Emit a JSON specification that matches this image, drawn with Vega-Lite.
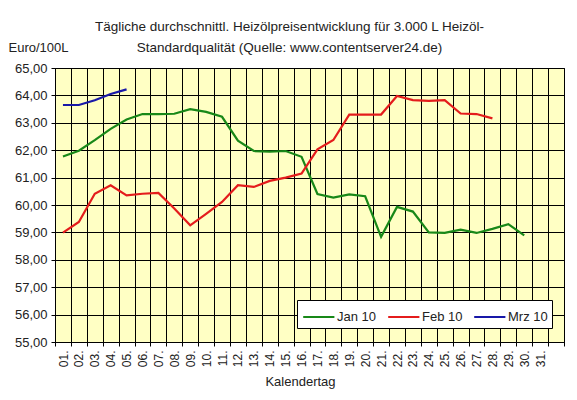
{
  "$schema": "https://vega.github.io/schema/vega-lite/v6.json",
  "width": 509,
  "height": 274,
  "autosize": "none",
  "padding": {"left": 55, "top": 68, "right": 13, "bottom": 58},
  "background": "white",
  "config": {
    "font": "Liberation Sans",
    "view": {"fill": "#FFFFC4", "stroke": "black", "strokeWidth": 1}
  },
  "title": {
    "text": ["Tägliche durchschnittl. Heizölpreisentwicklung für 3.000 L Heizöl-", "Standardqualität (Quelle: www.contentserver24.de)"],
    "fontSize": 13.5,
    "fontWeight": "normal",
    "color": "#222222",
    "anchor": "middle",
    "frame": "group",
    "dx": -20,
    "offset": -13,
    "lineHeight": 21
  },
  "data": {
    "values": [
      {"day": 1, "month": "Jan 10", "price": 61.77},
      {"day": 2, "month": "Jan 10", "price": 61.98},
      {"day": 3, "month": "Jan 10", "price": 62.37},
      {"day": 4, "month": "Jan 10", "price": 62.78},
      {"day": 5, "month": "Jan 10", "price": 63.12},
      {"day": 6, "month": "Jan 10", "price": 63.32},
      {"day": 7, "month": "Jan 10", "price": 63.32},
      {"day": 8, "month": "Jan 10", "price": 63.33},
      {"day": 9, "month": "Jan 10", "price": 63.5},
      {"day": 10, "month": "Jan 10", "price": 63.4},
      {"day": 11, "month": "Jan 10", "price": 63.22},
      {"day": 12, "month": "Jan 10", "price": 62.35},
      {"day": 13, "month": "Jan 10", "price": 61.97},
      {"day": 14, "month": "Jan 10", "price": 61.95},
      {"day": 15, "month": "Jan 10", "price": 61.97},
      {"day": 16, "month": "Jan 10", "price": 61.76},
      {"day": 17, "month": "Jan 10", "price": 60.4},
      {"day": 18, "month": "Jan 10", "price": 60.27},
      {"day": 19, "month": "Jan 10", "price": 60.39},
      {"day": 20, "month": "Jan 10", "price": 60.32},
      {"day": 21, "month": "Jan 10", "price": 58.84},
      {"day": 22, "month": "Jan 10", "price": 59.93},
      {"day": 23, "month": "Jan 10", "price": 59.76},
      {"day": 24, "month": "Jan 10", "price": 59.0},
      {"day": 25, "month": "Jan 10", "price": 58.98},
      {"day": 26, "month": "Jan 10", "price": 59.1},
      {"day": 27, "month": "Jan 10", "price": 58.98},
      {"day": 28, "month": "Jan 10", "price": 59.13},
      {"day": 29, "month": "Jan 10", "price": 59.3},
      {"day": 30, "month": "Jan 10", "price": 58.89},
      {"day": 1, "month": "Feb 10", "price": 58.99},
      {"day": 2, "month": "Feb 10", "price": 59.38},
      {"day": 3, "month": "Feb 10", "price": 60.41},
      {"day": 4, "month": "Feb 10", "price": 60.72},
      {"day": 5, "month": "Feb 10", "price": 60.35},
      {"day": 6, "month": "Feb 10", "price": 60.41},
      {"day": 7, "month": "Feb 10", "price": 60.44},
      {"day": 8, "month": "Feb 10", "price": 59.87},
      {"day": 9, "month": "Feb 10", "price": 59.26},
      {"day": 10, "month": "Feb 10", "price": 59.68},
      {"day": 11, "month": "Feb 10", "price": 60.11},
      {"day": 12, "month": "Feb 10", "price": 60.72},
      {"day": 13, "month": "Feb 10", "price": 60.66},
      {"day": 14, "month": "Feb 10", "price": 60.88},
      {"day": 15, "month": "Feb 10", "price": 61.0},
      {"day": 16, "month": "Feb 10", "price": 61.15},
      {"day": 17, "month": "Feb 10", "price": 62.03},
      {"day": 18, "month": "Feb 10", "price": 62.37},
      {"day": 19, "month": "Feb 10", "price": 63.3},
      {"day": 20, "month": "Feb 10", "price": 63.3},
      {"day": 21, "month": "Feb 10", "price": 63.3},
      {"day": 22, "month": "Feb 10", "price": 63.98},
      {"day": 23, "month": "Feb 10", "price": 63.83},
      {"day": 24, "month": "Feb 10", "price": 63.8},
      {"day": 25, "month": "Feb 10", "price": 63.83},
      {"day": 26, "month": "Feb 10", "price": 63.34},
      {"day": 27, "month": "Feb 10", "price": 63.32},
      {"day": 28, "month": "Feb 10", "price": 63.16},
      {"day": 1, "month": "Mrz 10", "price": 63.65},
      {"day": 2, "month": "Mrz 10", "price": 63.65},
      {"day": 3, "month": "Mrz 10", "price": 63.82},
      {"day": 4, "month": "Mrz 10", "price": 64.05},
      {"day": 5, "month": "Mrz 10", "price": 64.22}
    ]
  },
  "mark": {"type": "line", "strokeWidth": 2.2},
  "encoding": {
    "x": {
      "field": "day",
      "type": "quantitative",
      "scale": {"domain": [0.5, 32.5], "nice": false, "zero": false},
      "axis": {
        "values": [0.5, 1.5, 2.5, 3.5, 4.5, 5.5, 6.5, 7.5, 8.5, 9.5, 10.5, 11.5, 12.5, 13.5, 14.5, 15.5, 16.5, 17.5, 18.5, 19.5, 20.5, 21.5, 22.5, 23.5, 24.5, 25.5, 26.5, 27.5, 28.5, 29.5, 30.5, 31.5, 32.5],
        "labelExpr": "datum.value + 0.5 <= 31 ? (datum.value + 0.5 < 10 ? '0' : '') + (datum.value + 0.5) + '.' : ''",
        "labelAngle": 270,
        "labelAlign": "right",
        "labelBaseline": "middle",
        "labelFontSize": 12,
        "labelColor": "#222222",
        "labelPadding": 4,
        "labelOffset": 8,
        "labelFlush": false,
        "labelOverlap": false,
        "labelBound": false,
        "tickColor": "black",
        "tickSize": 4,
        "domainColor": "black",
        "grid": true,
        "gridColor": "black",
        "gridOpacity": 1,
        "gridWidth": 1,
        "title": "Kalendertag",
        "titleFontSize": 13,
        "titleFontWeight": "normal",
        "titleColor": "#222222",
        "titleBaseline": "middle",
        "titleY": 39,
        "titleX": 245
      }
    },
    "y": {
      "field": "price",
      "type": "quantitative",
      "scale": {"domain": [55, 65], "nice": false, "zero": false},
      "axis": {
        "values": [55, 56, 57, 58, 59, 60, 61, 62, 63, 64, 65],
        "labelExpr": "replace(format(datum.value, '.2f'), '.', ',')",
        "labelFontSize": 13,
        "labelColor": "#222222",
        "labelPadding": 4,
        "tickColor": "black",
        "tickSize": 4,
        "domainColor": "black",
        "grid": true,
        "gridColor": "black",
        "gridOpacity": 1,
        "gridWidth": 1,
        "title": "Euro/100L",
        "titleAngle": 0,
        "titleAlign": "left",
        "titleBaseline": "middle",
        "titleX": -47,
        "titleY": -21,
        "titleFontSize": 13,
        "titleFontWeight": "normal",
        "titleColor": "#222222"
      }
    },
    "color": {
      "field": "month",
      "type": "nominal",
      "scale": {"domain": ["Jan 10", "Feb 10", "Mrz 10"], "range": ["#188818", "#E41C1C", "#1818A8"]},
      "legend": {
        "title": null,
        "orient": "none",
        "legendX": 242,
        "legendY": 232,
        "direction": "horizontal",
        "fillColor": "white",
        "strokeColor": "black",
        "padding": 4,
        "symbolType": "M-0.9,0H1.7",
        "symbolSize": 576,
        "symbolStrokeWidth": 2,
        "labelFontSize": 13,
        "labelColor": "#222222",
        "labelOffset": 10,
        "columnPadding": 7
      }
    }
  }
}
